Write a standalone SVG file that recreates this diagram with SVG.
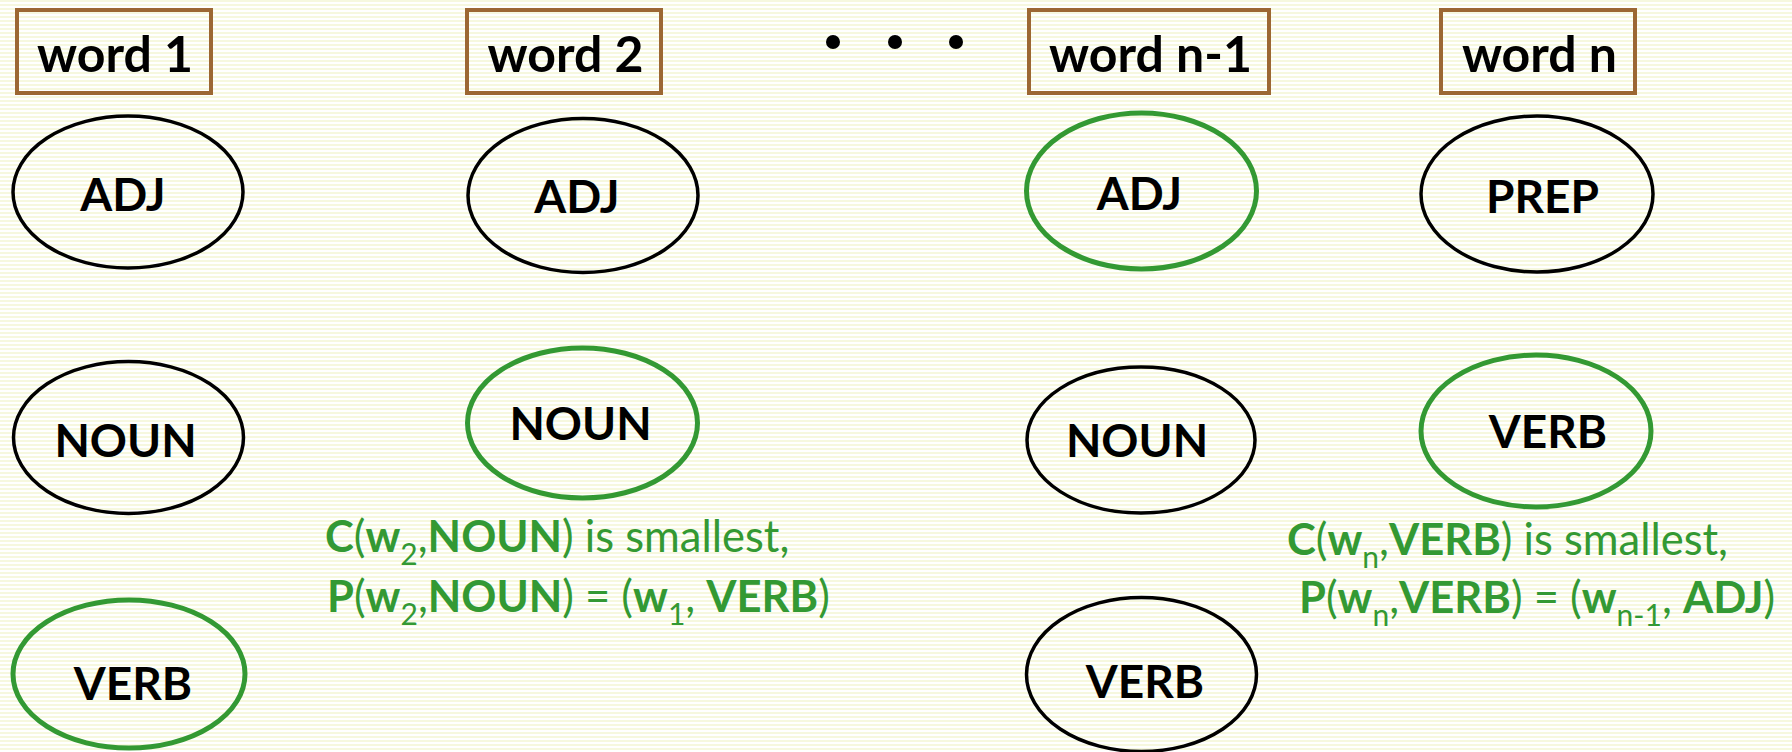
<svg xmlns="http://www.w3.org/2000/svg" width="1792" height="752" viewBox="0 0 1792 752">
<defs>
<pattern id="stripes" x="0" y="0" width="8" height="4" patternUnits="userSpaceOnUse">
<rect x="0" y="0" width="8" height="4" fill="#ffffff"/>
<rect x="0" y="0" width="8" height="2" fill="#f6f8de"/>
</pattern>
<style>
.box{fill:none;stroke:#9c6733;stroke-width:4}
.el{fill:none;stroke:#000;stroke-width:3.5}
.elg{fill:none;stroke:#339933;stroke-width:5}
.wt{font-family:Lato,"Liberation Sans",sans-serif;font-weight:bold;font-size:50px;fill:#000;text-anchor:middle}
.lt{font-family:Lato,"Liberation Sans",sans-serif;font-weight:bold;font-size:46px;fill:#000;text-anchor:middle}
.gt{font-family:Lato,"Liberation Sans",sans-serif;font-size:43.5px;fill:#339933}
.b{font-weight:bold}
.s{font-size:30px}
</style>
</defs>
<rect x="0" y="0" width="1792" height="752" fill="url(#stripes)"/>

<g id="word1"><rect class="box" x="17" y="10" width="194" height="83"/><text class="wt" x="115" y="72">word 1</text></g>
<g id="word2"><rect class="box" x="467" y="10" width="194" height="83"/><text class="wt" x="565.5" y="72">word 2</text></g>
<g id="wordn1"><rect class="box" x="1029" y="10" width="240" height="83"/><text class="wt" x="1150.5" y="72">word n-1</text></g>
<g id="wordn"><rect class="box" x="1441" y="10" width="194" height="83"/><text class="wt" x="1539.5" y="72">word n</text></g>

<g id="dots" fill="#000"><circle cx="833" cy="42" r="7"/><circle cx="895" cy="42" r="7"/><circle cx="956" cy="42" r="7"/></g>

<g id="c1adj"><ellipse class="el" cx="128" cy="192" rx="115" ry="76"/><text class="lt" x="123" y="211">ADJ</text></g>
<g id="c1noun"><ellipse class="el" cx="128.5" cy="437.5" rx="115" ry="76"/><text class="lt" x="125.5" y="457">NOUN</text></g>
<g id="c1verb"><ellipse class="elg" cx="129" cy="674" rx="116" ry="74"/><text class="lt" x="133" y="700">VERB</text></g>

<g id="c2adj"><ellipse class="el" cx="583" cy="195.5" rx="115" ry="77"/><text class="lt" x="577" y="213">ADJ</text></g>
<g id="c2noun"><ellipse class="elg" cx="582.5" cy="423" rx="115" ry="75"/><text class="lt" x="580.5" y="440">NOUN</text></g>

<g id="c3adj"><ellipse class="elg" cx="1141.5" cy="191" rx="115" ry="78"/><text class="lt" x="1139.5" y="210">ADJ</text></g>
<g id="c3noun"><ellipse class="el" cx="1141" cy="440" rx="114" ry="73"/><text class="lt" x="1137" y="457">NOUN</text></g>
<g id="c3verb"><ellipse class="el" cx="1141.5" cy="674.5" rx="115" ry="77"/><text class="lt" x="1145" y="698">VERB</text></g>

<g id="c4prep"><ellipse class="el" cx="1537" cy="194" rx="116" ry="78"/><text class="lt" x="1542.5" y="213">PREP</text></g>
<g id="c4verb"><ellipse class="elg" cx="1536" cy="431" rx="115" ry="76"/><text class="lt" x="1548" y="448">VERB</text></g>

<g id="note1">
<text class="gt" x="325" y="552"><tspan class="b">C</tspan>(<tspan class="b">w</tspan><tspan class="s" dy="13">2</tspan><tspan dy="-13">,</tspan><tspan class="b">NOUN</tspan>) is smallest,</text>
<text class="gt" x="327" y="612"><tspan class="b">P</tspan>(<tspan class="b">w</tspan><tspan class="s" dy="13">2</tspan><tspan dy="-13">,</tspan><tspan class="b">NOUN</tspan>) = (<tspan class="b">w</tspan><tspan class="s" dy="13">1</tspan><tspan dy="-13">, </tspan><tspan class="b">VERB</tspan>)</text>
</g>
<g id="note2">
<text class="gt" x="1287" y="555"><tspan class="b">C</tspan>(<tspan class="b">w</tspan><tspan class="s" dy="13">n</tspan><tspan dy="-13">,</tspan><tspan class="b">VERB</tspan>) is smallest,</text>
<text class="gt" x="1299" y="613"><tspan class="b">P</tspan>(<tspan class="b">w</tspan><tspan class="s" dy="13">n</tspan><tspan dy="-13">,</tspan><tspan class="b">VERB</tspan>) = (<tspan class="b">w</tspan><tspan class="s" dy="13">n-1</tspan><tspan dy="-13">, </tspan><tspan class="b">ADJ</tspan>)</text>
</g>
</svg>
